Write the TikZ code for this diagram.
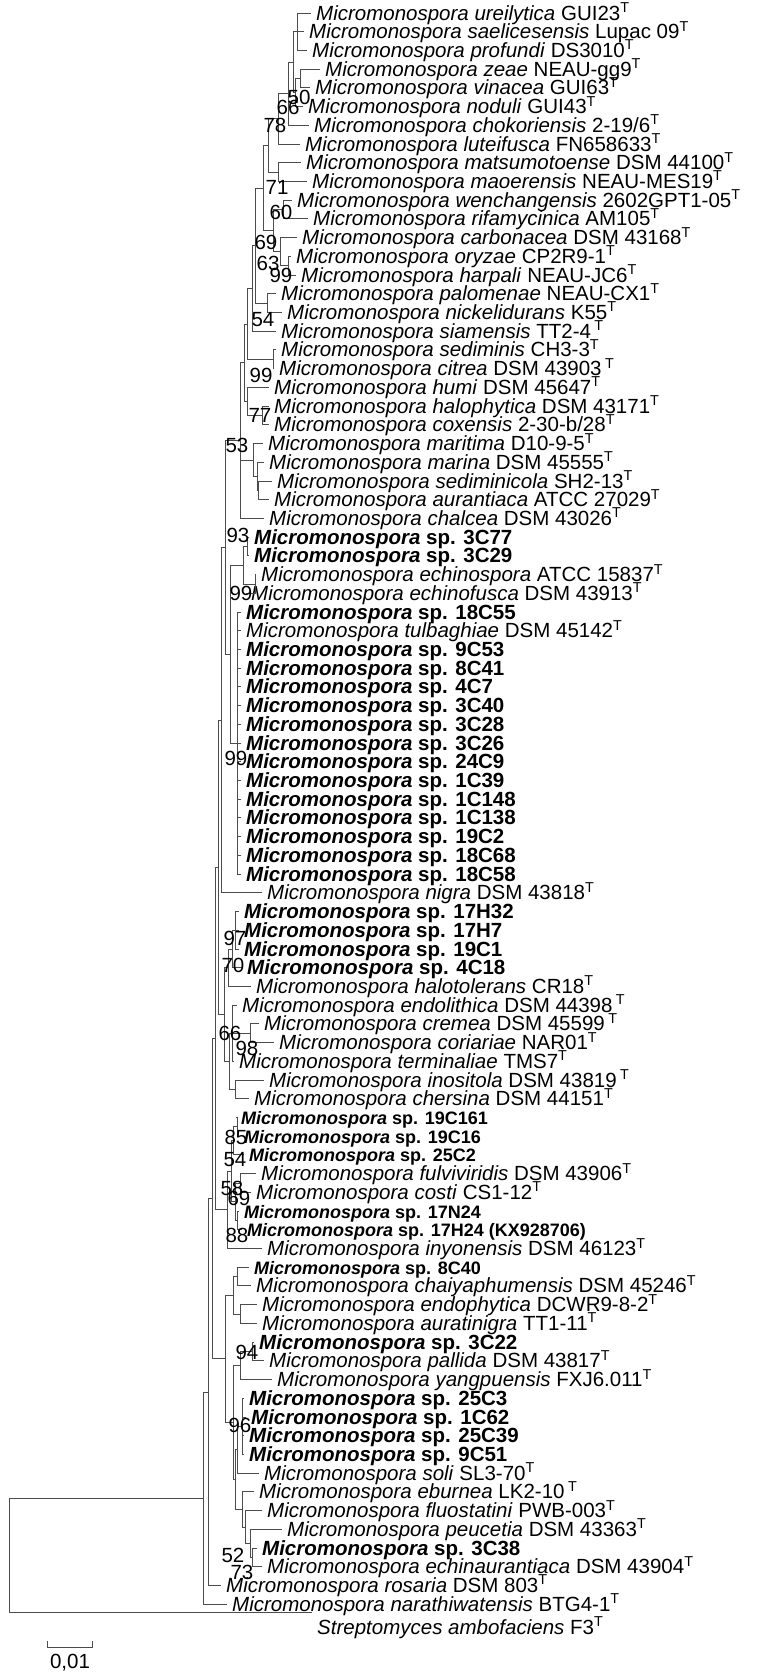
\documentclass[tikz,border=0pt]{standalone}
\usepackage{fontspec}
\setmainfont{Liberation Sans}
\usetikzlibrary{positioning}
\tikzset{
  leaf/.style={anchor=west,inner xsep=5pt,inner ysep=0pt,text height=15pt,text depth=1pt,font=\fontsize{20.5}{22}\selectfont},
  isol/.style={leaf,font=\fontsize{20.5}{22}\selectfont\bfseries},
  isolsm/.style={leaf,font=\fontsize{18}{20}\selectfont\bfseries},
  br/.style={draw=black!70,line width=1pt},
  boot/.style={inner sep=0pt,font=\fontsize{20.5}{22}\selectfont},
  declare function={row(\i)=13+(\i-1)*18.72;}
}
\newcommand{\mic}[2]{\textit{Micromonospora #1} #2\textsuperscript{T}}
\newcommand{\iso}[1]{\textit{Micromonospora} sp. #1}

\begin{document}
\begin{tikzpicture}[x=1pt,y=-1pt]
\useasboundingbox (0,0) rectangle (759,1676);
% leaves
\node[leaf] (ure) at (311,{row(1)}) {\mic{ureilytica}{GUI23}};
\node[leaf] (sae) at (304,{row(2)}) {\mic{saelicesensis}{Lupac 09}};
\node[leaf] (pro) at (307,{row(3)}) {\mic{profundi}{DS3010}};
\node[leaf] (zea) at (320,{row(4)}) {\mic{zeae}{NEAU-gg9}};
\node[leaf] (vin) at (310,{row(5)}) {\mic{vinacea}{GUI63}};
\node[leaf] (nod) at (303,{row(6)}) {\mic{noduli}{GUI43}};
\node[leaf] (cho) at (309,{row(7)}) {\mic{chokoriensis}{2-19/6}};
\node[leaf] (lut) at (300,{row(8)}) {\mic{luteifusca}{FN658633}};
\node[leaf] (mat) at (301,{row(9)}) {\mic{matsumotoense}{DSM 44100}};
\node[leaf] (mao) at (307,{row(10)}) {\mic{maoerensis}{NEAU-MES19}};
\node[leaf] (wen) at (292,{row(11)}) {\mic{wenchangensis}{2602GPT1-05}};
\node[leaf] (rif) at (308,{row(12)}) {\mic{rifamycinica}{AM105}};
\node[leaf] (car) at (297,{row(13)}) {\mic{carbonacea}{DSM 43168}};
\node[leaf] (ory) at (291,{row(14)}) {\mic{oryzae}{CP2R9-1}};
\node[leaf] (har) at (296,{row(15)}) {\mic{harpali}{NEAU-JC6}};
\node[leaf] (pal) at (276,{row(16)}) {\mic{palomenae}{NEAU-CX1}};
\node[leaf] (nic) at (282,{row(17)}) {\mic{nickelidurans}{K55}};
\node[leaf] (sia) at (276,{row(18)}) {\mic{siamensis}{TT2-4\,}};
\node[leaf] (sed) at (276,{row(19)}) {\mic{sediminis}{CH3-3}};
\node[leaf] (cit) at (274,{row(20)}) {\mic{citrea}{DSM 43903\,}};
\node[leaf] (hum) at (269,{row(21)}) {\mic{humi}{DSM 45647}};
\node[leaf] (hal) at (269,{row(22)}) {\mic{halophytica}{DSM 43171}};
\node[leaf] (cox) at (269,{row(23)}) {\mic{coxensis}{2-30-b/28}};
\node[leaf] (mar) at (263,{row(24)}) {\mic{maritima}{D10-9-5}};
\node[leaf] (mrn) at (264,{row(25)}) {\mic{marina}{DSM 45555}};
\node[leaf] (sdc) at (272,{row(26)}) {\mic{sediminicola}{SH2-13}};
\node[leaf] (aur) at (269,{row(27)}) {\mic{aurantiaca}{ATCC 27029}};
\node[leaf] (chl) at (264,{row(28)}) {\mic{chalcea}{DSM 43026}};
\node[isol] (i3C77) at (249,{row(29)}) {\iso{3C77}};
\node[isol] (i3C29) at (249,{row(30)}) {\iso{3C29}};
\node[leaf] (eci) at (256,{row(31)}) {\mic{echinospora}{ATCC 15837}};
\node[leaf] (ecf) at (246,{row(32)}) {\mic{echinofusca}{DSM 43913}};
\node[isol] (i18C55) at (241,{row(33)}) {\iso{18C55}};
\node[leaf] (tul) at (241,{row(34)}) {\mic{tulbaghiae}{DSM 45142}};
\node[isol] (i9C53) at (241,{row(35)}) {\iso{9C53}};
\node[isol] (i8C41) at (241,{row(36)}) {\iso{8C41}};
\node[isol] (i4C7) at (241,{row(37)}) {\iso{4C7}};
\node[isol] (i3C40) at (241,{row(38)}) {\iso{3C40}};
\node[isol] (i3C28) at (241,{row(39)}) {\iso{3C28}};
\node[isol] (i3C26) at (241,{row(40)}) {\iso{3C26}};
\node[isol] (i24C9) at (241,{row(41)}) {\iso{24C9}};
\node[isol] (i1C39) at (241,{row(42)}) {\iso{1C39}};
\node[isol] (i1C148) at (241,{row(43)}) {\iso{1C148}};
\node[isol] (i1C138) at (241,{row(44)}) {\iso{1C138}};
\node[isol] (i19C2) at (241,{row(45)}) {\iso{19C2}};
\node[isol] (i18C68) at (241,{row(46)}) {\iso{18C68}};
\node[isol] (i18C58) at (241,{row(47)}) {\iso{18C58}};
\node[leaf] (nig) at (262,{row(48)}) {\mic{nigra}{DSM 43818}};
\node[isol] (i17H32) at (239,{row(49)}) {\iso{17H32}};
\node[isol] (i17H7) at (239,{row(50)}) {\iso{17H7}};
\node[isol] (i19C1) at (239,{row(51)}) {\iso{19C1}};
\node[isol] (i4C18) at (242,{row(52)}) {\iso{4C18}};
\node[leaf] (hat) at (251,{row(53)}) {\mic{halotolerans}{CR18}};
\node[leaf] (end) at (237,{row(54)}) {\mic{endolithica}{DSM 44398\,}};
\node[leaf] (cre) at (259,{row(55)}) {\mic{cremea}{DSM 45599\,}};
\node[leaf] (cor) at (274,{row(56)}) {\mic{coriariae}{NAR01}};
\node[leaf] (ter) at (234,{row(57)}) {\mic{terminaliae}{TMS7}};
\node[leaf] (ino) at (264,{row(58)}) {\mic{inositola}{DSM 43819\,}};
\node[leaf] (che) at (249,{row(59)}) {\mic{chersina}{DSM 44151}};
\node[isolsm] (i19C161) at (236,{row(60)}) {\iso{19C161}};
\node[isolsm] (i19C16) at (239,{row(61)}) {\iso{19C16}};
\node[isolsm] (i25C2) at (244,{row(62)}) {\iso{25C2}};
\node[leaf] (ful) at (256,{row(63)}) {\mic{fulviviridis}{DSM 43906}};
\node[leaf] (cos) at (251,{row(64)}) {\mic{costi}{CS1-12}};
\node[isolsm] (i17N24) at (239,{row(65)}) {\iso{17N24}};
\node[isolsm] (i17H24) at (242,{row(66)}) {\iso{17H24 (KX928706)}};
\node[leaf] (iny) at (262,{row(67)}) {\mic{inyonensis}{DSM 46123}};
\node[isolsm] (i8C40) at (249,{row(68)}) {\iso{8C40}};
\node[leaf] (chy) at (251,{row(69)}) {\mic{chaiyaphumensis}{DSM 45246}};
\node[leaf] (edp) at (257,{row(70)}) {\mic{endophytica}{DCWR9-8-2}};
\node[leaf] (atn) at (257,{row(71)}) {\mic{auratinigra}{TT1-11}};
\node[isol] (i3C22) at (254,{row(72)}) {\iso{3C22}};
\node[leaf] (pld) at (264,{row(73)}) {\mic{pallida}{DSM 43817}};
\node[leaf] (yan) at (272,{row(74)}) {\mic{yangpuensis}{FXJ6.011}};
\node[isol] (i25C3) at (244,{row(75)}) {\iso{25C3}};
\node[isol] (i1C62) at (246,{row(76)}) {\iso{1C62}};
\node[isol] (i25C39) at (244,{row(77)}) {\iso{25C39}};
\node[isol] (i9C51) at (244,{row(78)}) {\iso{9C51}};
\node[leaf] (sol) at (259,{row(79)}) {\mic{soli}{SL3-70}};
\node[leaf] (ebu) at (254,{row(80)}) {\mic{eburnea}{LK2-10\,}};
\node[leaf] (flu) at (262,{row(81)}) {\mic{fluostatini}{PWB-003}};
\node[leaf] (peu) at (282,{row(82)}) {\mic{peucetia}{DSM 43363}};
\node[isol] (i3C38) at (257,{row(83)}) {\iso{3C38}};
\node[leaf] (eca) at (262,{row(84)}) {\mic{echinaurantiaca}{DSM 43904}};
\node[leaf] (ros) at (221,{row(85)}) {\mic{rosaria}{DSM 803}};
\node[leaf] (nar) at (227,{row(86)}) {\mic{narathiwatensis}{BTG4-1}};
\coordinate (stip) at (312,1612);
\node[leaf] (str) at (312,1627) {\textit{Streptomyces ambofaciens} F3\textsuperscript{T}};
% internal nodes
\coordinate (c1) at (297,31.7);
\coordinate (c2) at (300,78.6);
\coordinate (c3) at (295,92.6);
\coordinate (c4) at (293,62.2);
\coordinate (c5) at (288,93.8);
\coordinate (c6) at (278,118.9);
\coordinate (c7) at (278,172.2);
\coordinate (c8) at (268,145.6);
\coordinate (c9) at (283,209.6);
\coordinate (c10) at (288,265.8);
\coordinate (c11) at (280,251.7);
\coordinate (c12) at (273,230.7);
\coordinate (c13) at (263,188.2);
\coordinate (c14) at (267,303.2);
\coordinate (c15) at (255,245.7);
\coordinate (c16) at (252,288.5);
\coordinate (c17) at (273,359.4);
\coordinate (c18) at (247,324);
\coordinate (c19) at (262,415.5);
\coordinate (c20) at (247,401.5);
\coordinate (c21) at (244,362.8);
\coordinate (c22) at (258,490.4);
\coordinate (c23) at (257,476.3);
\coordinate (c24) at (253,460);
\coordinate (c26) at (240,440.6);
\coordinate (d1) at (247,546.5);
\coordinate (d2) at (255,584);
\coordinate (d3) at (243,565.2);
\coordinate (d4) at (237,743);
\coordinate (d5) at (230,654.1);
\coordinate (d6) at (225,547.4);
\coordinate (d7) at (221,720.1);
\coordinate (e1) at (235,930.3);
\coordinate (e2) at (232,949);
\coordinate (e3) at (228,967.7);
\coordinate (f1) at (250,1033.3);
\coordinate (f2) at (232,1033.3);
\coordinate (f3) at (235,1089.4);
\coordinate (f4) at (229,1061.3);
\coordinate (e4) at (224,1014.5);
\coordinate (g1) at (237,1126.9);
\coordinate (g2) at (233,1140.9);
\coordinate (g3) at (240,1183);
\coordinate (g4) at (237,1220.5);
\coordinate (g5) at (235,1201.7);
\coordinate (g6) at (231,1171.3);
\coordinate (g7) at (227,1209.9);
\coordinate (h1) at (237,1276.6);
\coordinate (h2) at (240,1314);
\coordinate (h3) at (233,1295.3);
\coordinate (h4) at (252,1351.5);
\coordinate (h5) at (240,1365.5);
\coordinate (h6) at (242,1426.4);
\coordinate (h7) at (237,1449.8);
\coordinate (h8) at (233,1422.6);
\coordinate (h9) at (252,1557.4);
\coordinate (h10) at (250,1543.4);
\coordinate (h11) at (245,1527);
\coordinate (h12) at (242,1509.5);
\coordinate (h13) at (235,1479.6);
\coordinate (h14) at (225,1358.9);
\coordinate (p3) at (218,867.3);
\coordinate (p2) at (215,1038.6);
\coordinate (p) at (212,1198.8);
\coordinate (q) at (208,1392.1);
\coordinate (m) at (203,1498.2);
\coordinate (r0) at (9,1555.1);
% branches
\foreach \a/\b in {c1/ure,c1/sae,c1/pro,c2/zea,c2/vin,c3/c2,c3/nod,c4/c1,c4/c3,c5/c4,c5/cho,
  c6/c5,c6/lut,c7/mat,c7/mao,c8/c6,c8/c7,c9/wen,c9/rif,c10/ory,c10/har,c11/car,c11/c10,
  c12/c9,c12/c11,c13/c8,c13/c12,c14/pal,c14/nic,c15/c13,c15/c14,c16/c15,c16/sia,
  c17/sed,c17/cit,c18/c16,c18/c17,c19/hal,c19/cox,c20/hum,c20/c19,c21/c18,c21/c20,
  c22/sdc,c22/aur,c23/mrn,c23/c22,c24/mar,c24/c23,c26/c21,c26/c24,c26/chl,
  d1/i3C77,d1/i3C29,d2/eci,d2/ecf,d3/d1,d3/d2,
  d4/i18C55,d4/tul,d4/i9C53,d4/i8C41,d4/i4C7,d4/i3C40,d4/i3C28,d4/i3C26,d4/i24C9,
  d4/i1C39,d4/i1C148,d4/i1C138,d4/i19C2,d4/i18C68,d4/i18C58,
  d5/d3,d5/d4,d6/c26,d6/d5,d7/d6,d7/nig,
  e1/i17H32,e1/i17H7,e1/i19C1,e2/e1,e2/i4C18,e3/e2,e3/hat,
  f1/cre,f1/cor,f2/end,f2/f1,f2/ter,f3/ino,f3/che,f4/f2,f4/f3,e4/e3,e4/f4,
  g1/i19C161,g1/i19C16,g2/g1,g2/i25C2,g3/ful,g3/cos,g4/i17N24,g4/i17H24,g5/g3,g5/g4,
  g6/g2,g6/g5,g7/g6,g7/iny,
  h1/i8C40,h1/chy,h2/edp,h2/atn,h3/h1,h3/h2,h4/i3C22,h4/pld,h5/h4,h5/yan,
  h6/i25C3,h6/i1C62,h6/i25C39,h6/i9C51,h7/h6,h7/sol,
  h9/i3C38,h9/eca,h10/peu,h10/h9,h11/flu,h11/h10,h12/ebu,h12/h11,h13/h7,h13/h12,
  h8/h5,h8/h13,h14/h3,h14/h8,
  p3/d7,p3/e4,p2/p3,p2/g7,p/p2,p/h14,q/p,q/ros,m/q,m/nar,r0/m,r0/stip}
  \draw[br] (\a) |- (\b);
% bootstrap values
\node[boot] (b1) at (299,97) {50};
\node[boot] (b2) at (288,107) {66};
\node[boot] (b3) at (275,125) {78};
\node[boot] (b4) at (277,187) {71};
\node[boot] (b5) at (281,212) {60};
\node[boot] (b6) at (266,242) {69};
\node[boot] (b7) at (268,263) {63};
\node[boot] (b8) at (281,275) {99};
\node[boot] (b9) at (263,320) {54};
\node[boot] (b10) at (261,375) {99};
\node[boot] (b11) at (260,415) {77};
\node[boot] (b12) at (237,445) {53};
\node[boot] (b13) at (238,535) {93};
\node[boot] (b14) at (241,593) {99};
\node[boot] (b15) at (236,758) {99};
\node[boot] (b16) at (235,938) {97};
\node[boot] (b17) at (233,965) {70};
\node[boot] (b18) at (230,1033) {66};
\node[boot] (b19) at (247,1048) {98};
\node[boot] (b20) at (236,1137) {85};
\node[boot] (b21) at (235,1160) {54};
\node[boot] (b22) at (232,1188) {58};
\node[boot] (b23) at (239,1198) {69};
\node[boot] (b24) at (237,1235) {88};
\node[boot] (b25) at (247,1352) {94};
\node[boot] (b26) at (240,1425) {96};
\node[boot] (b27) at (233,1555) {52};
\node[boot] (b28) at (242,1572) {73};
% scale bar
\draw[br] (47,1641) -- (47,1647) -- (92,1647) -- (92,1641);
\node[boot] (scale) at (70,1663) {0,01};
\end{tikzpicture}
\end{document}
